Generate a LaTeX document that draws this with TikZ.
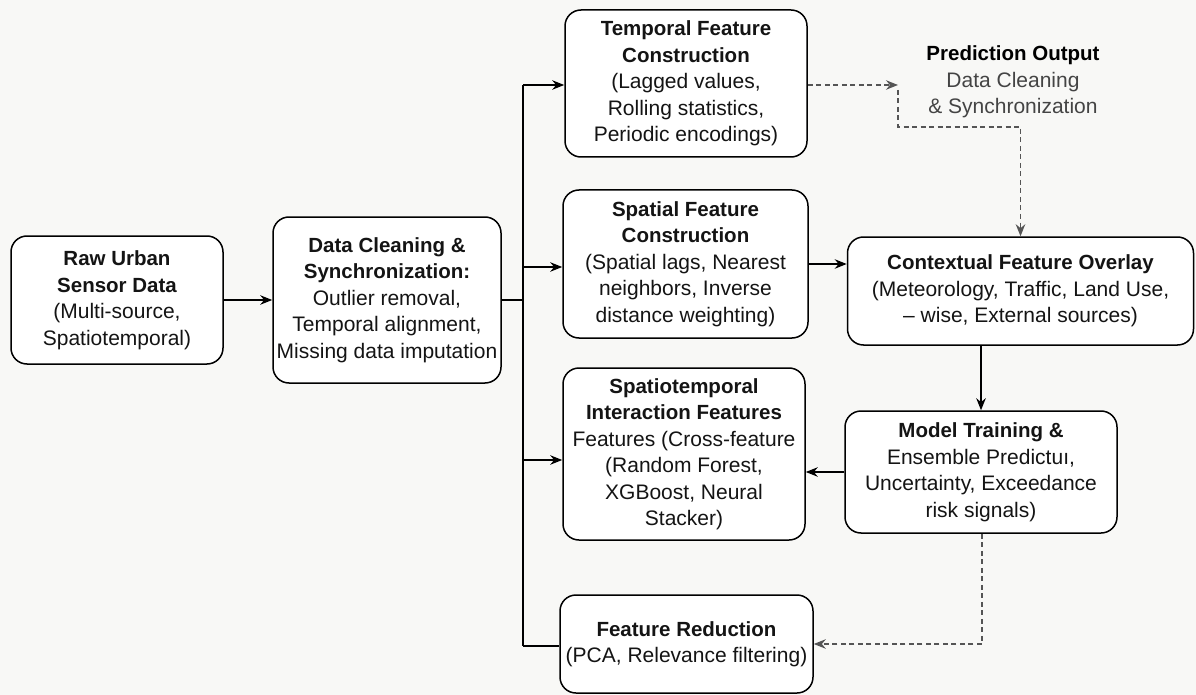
\documentclass[tikz,border=0pt]{standalone}
\usepackage{fontspec}
\setmainfont{Liberation Sans}
\usetikzlibrary{arrows.meta}
\definecolor{bgc}{HTML}{F8F8F6}
\definecolor{dgray}{HTML}{555555}
\definecolor{tgray}{HTML}{444444}
\newcommand\hd[1]{{\fontsize{20.5}{26.5}\selectfont\bfseries #1}}
\begin{document}
\begin{tikzpicture}[x=1pt,y=-1pt,
  box/.style={draw=black, line width=1.5pt, rounded corners=16pt, fill=white,
    align=center, font=\fontsize{21}{26.5}\selectfont, inner sep=0pt, text=black!92},
  conn/.style={line width=1.6pt, -{Stealth[length=12pt,width=9.5pt]}},
  plainline/.style={line width=1.6pt},
  dashconn/.style={line width=1.3pt, draw=dgray, dash pattern=on 5pt off 3.5pt,
    -{Stealth[length=12pt,width=9.5pt]}},
]
\fill[bgc] (0,0) rectangle (1196,695);
\useasboundingbox (0,0) rectangle (1196,695);

\node[box, minimum width=212pt, minimum height=128pt] (raw) at (117,300)
  {\hd{Raw Urban}\\\hd{Sensor Data}\\(Multi-source,\\Spatiotemporal)};
\node[box, minimum width=228pt, minimum height=166pt] (clean) at (387,300)
  {\hd{Data Cleaning \&}\\\hd{Synchronization:}\\Outlier removal,\\Temporal alignment,\\Missing data imputation};
\node[box, minimum width=242pt, minimum height=147pt] (temporal) at (686,83.5)
  {\hd{Temporal Feature}\\\hd{Construction}\\(Lagged values,\\Rolling statistics,\\Periodic encodings)};
\node[box, minimum width=245pt, minimum height=148pt] (spatial) at (685.5,264)
  {\hd{Spatial Feature}\\\hd{Construction}\\(Spatial lags, Nearest\\neighbors, Inverse\\distance weighting)};
\node[box, minimum width=242pt, minimum height=172pt] (stint) at (684,454)
  {\hd{Spatiotemporal}\\\hd{Interaction Features}\\Features (Cross-feature\\(Random Forest,\\XGBoost, Neural\\Stacker)};
\node[box, minimum width=253pt, minimum height=98pt] (red) at (686.5,644)
  {\hd{Feature Reduction}\\(PCA, Relevance filtering)};
\node[box, minimum width=346pt, minimum height=108pt] (ctx) at (1020.5,291)
  {\hd{Contextual Feature Overlay}\\(Meteorology, Traffic, Land Use,\\– wise, External sources)};
\node[box, minimum width=272pt, minimum height=122pt] (model) at (981,472)
  {\hd{Model Training \&}\\Ensemble Predictuı,\\Uncertainty, Exceedance\\risk signals)};
\node[align=center, font=\fontsize{21}{26.5}\selectfont, inner sep=0pt] (pred) at (1013,82)
  {\hd{Prediction Output}\\{\color{tgray}Data Cleaning}\\{\color{tgray}\& Synchronization}};

% bus
\coordinate (bt) at (523,85);
\coordinate (bj) at (523,300);
\coordinate (bs) at (523,267);
\coordinate (bst) at (523,460);
\coordinate (bb) at (523,646);
\draw[conn] (raw.east) -- (clean.west);
\draw[plainline] (clean.east) -- (bj);
\draw[plainline] (bt) -- (bb);
\draw[conn] (bt) -- (bt -| temporal.west);
\draw[conn] (bs) -- (bs -| spatial.west);
\draw[conn] (bst) -- (bst -| stint.west);
\draw[plainline] (bb) -- (bb -| red.west);

\draw[conn] (spatial.east) -- (spatial.east -| ctx.west);
\draw[conn] (model.north |- ctx.south) -- (model.north);
\draw[conn] (model.west) -- (model.west -| stint.east);

% dashed paths
\coordinate (d1) at (898,85);
\coordinate (d1b) at (898,90);
\coordinate (d2) at (898,127);
\draw[dashconn] (temporal.east |- d1) -- (d1);
\draw[dashconn] (d1b) -- (d2) -- (d2 -| ctx.north) -- (ctx.north);
\draw[dashconn] (model.south -| 982,0) -- (red.east -| 982,0) -- (red.east);
\end{tikzpicture}
\end{document}
